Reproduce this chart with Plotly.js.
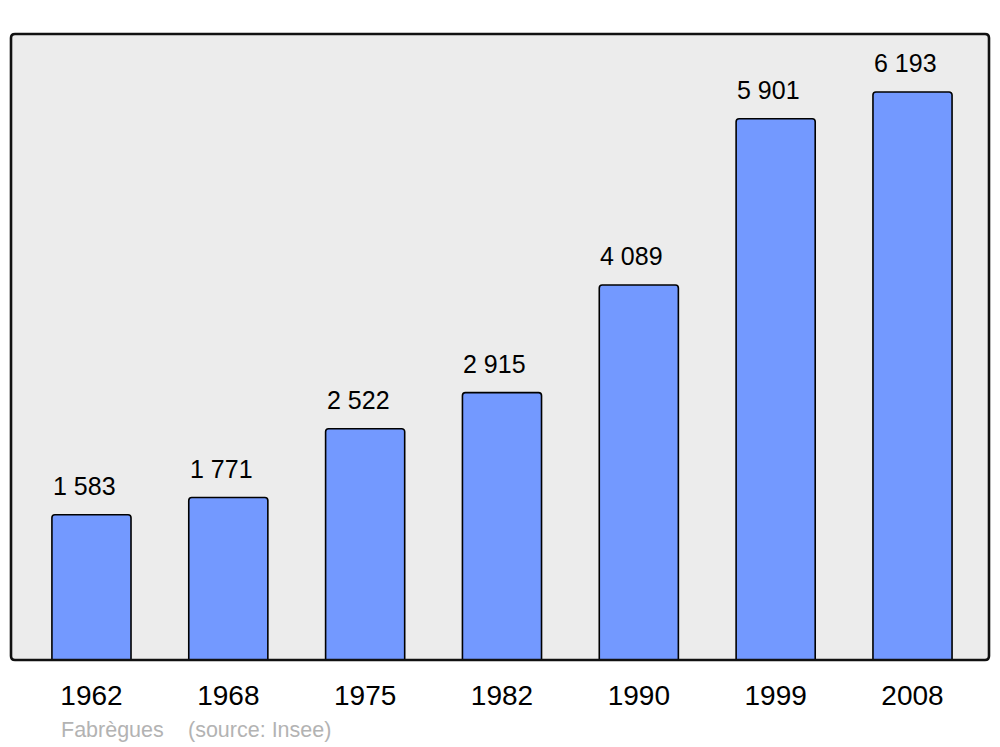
<!DOCTYPE html>
<html><head><meta charset="utf-8">
<script src="https://cdn.plot.ly/plotly-3.0.1.min.js"></script>
<style>body{margin:0;background:#fff}#c{width:1000px;height:747px}</style>
</head><body><div id="c"></div>
<script>
const years = ["1962","1968","1975","1982","1990","1999","2008"];
const population = [1583,1771,2522,2915,4089,5901,6193];
const valueLabels = ["1 583","1 771","2 522","2 915","4 089","5 901","6 193"];
const place = "Fabrègues";
const source = "(source: Insee)";

const idx = years.map((_, i) => i);
const trace = {
  type: 'bar', x: idx, y: population, width: 0.578,
  marker: {color: '#7399ff', line: {color: '#000', width: 1.6}, cornerradius: 3},
  hoverinfo: 'skip'
};
const W = 1000, H = 747, L = 11, R = 11, T = 34, B = 87;
const PW = W - L - R, PH = H - T - B;
const FONT = 'Liberation Sans, Arial, sans-serif';
const annotations = idx.map(i => ({
  x: i, y: population[i], xref: 'x', yref: 'y', text: valueLabels[i], showarrow: false,
  xanchor: 'center', yanchor: 'bottom', yshift: 13, xshift: -7,
  font: {family: FONT, size: 25, color: '#000'}
}));
const footY = -(730 - (H - B)) / PH;
annotations.push({xref: 'paper', yref: 'paper', x: (59 - L) / PW, y: footY,
  xanchor: 'left', yanchor: 'middle', showarrow: false, text: place,
  font: {family: FONT, size: 21.5, color: '#b3b3b3'}});
annotations.push({xref: 'paper', yref: 'paper', x: (186 - L) / PW, y: footY,
  xanchor: 'left', yanchor: 'middle', showarrow: false, text: source,
  font: {family: FONT, size: 21.5, color: '#b3b3b3'}});

const rx = 4 / PW, ry = 4 / PH;
const framePath = `M ${rx} 0 L ${1 - rx} 0 Q 1 0 1 ${ry} L 1 ${1 - ry} Q 1 1 ${1 - rx} 1 L ${rx} 1 Q 0 1 0 ${1 - ry} L 0 ${ry} Q 0 0 ${rx} 0 Z`;

const layout = {
  width: W, height: H, margin: {l: L, r: R, t: T, b: B},
  paper_bgcolor: '#fff', plot_bgcolor: '#ececec', showlegend: false,
  xaxis: {range: [-0.588, 6.559], tickvals: idx, ticktext: years, showgrid: false, zeroline: false,
    showline: false, ticks: 'outside', ticklen: 0, ticklabelstandoff: 10,
    tickfont: {family: FONT, size: 28, color: '#000'}},
  yaxis: {range: [0, 6825], showgrid: false, zeroline: false, showticklabels: false, showline: false, ticks: ''},
  annotations: annotations,
  shapes: [{type: 'path', xref: 'paper', yref: 'paper', path: framePath,
    line: {color: '#111', width: 2.6}, layer: 'above'}]
};
Plotly.newPlot('c', [trace], layout, {staticPlot: true});
</script></body></html>
